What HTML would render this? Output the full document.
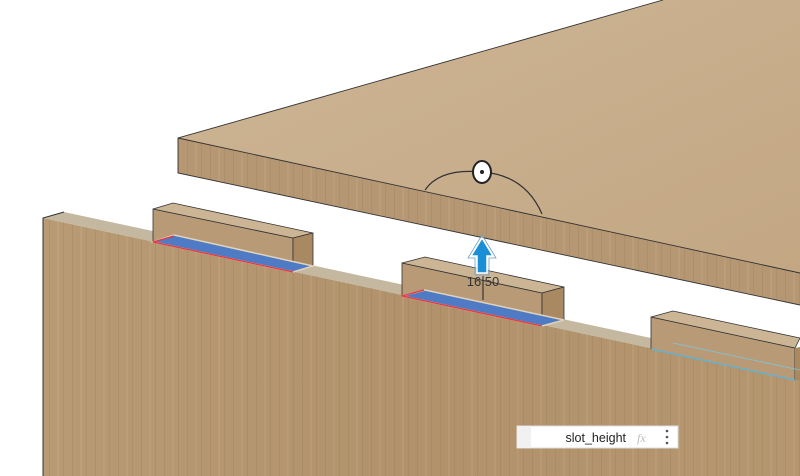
<!DOCTYPE html>
<html><head><meta charset="utf-8"><style>
html,body{margin:0;padding:0;background:#fff;width:800px;height:476px;overflow:hidden}
svg{display:block}
</style></head><body>
<svg width="800" height="476" viewBox="0 0 800 476" xmlns="http://www.w3.org/2000/svg">
<defs>
<linearGradient id="tf" x1="0" y1="0" x2="1" y2="1"><stop offset="0" stop-color="#cdb594"/><stop offset="1" stop-color="#c3a784"/></linearGradient>
<linearGradient id="lb" x1="0" y1="0" x2="1" y2="0"><stop offset="0" stop-color="#b89a75"/><stop offset="0.5" stop-color="#b1926b"/><stop offset="1" stop-color="#b5966f"/></linearGradient>
<pattern id="vg" width="23" height="476" patternUnits="userSpaceOnUse">
<rect x="3" y="0" width="1" height="476" fill="#8a6a45" opacity="0.18"/>
<rect x="11" y="0" width="2" height="476" fill="#d8c2a0" opacity="0.15"/>
<rect x="17" y="0" width="1" height="476" fill="#7a5a38" opacity="0.14"/>
</pattern>
</defs>
<!-- lower board -->
<polygon points="43,218 800,380 800,476 43,476" fill="url(#lb)"/>
<polygon points="43,218 800,380 800,476 43,476" fill="url(#vg)"/>
<polygon points="43,218 64,212 800,370 800,380" fill="#c4b8a0"/>
<polyline points="43,476 43,218 64,212" fill="none" stroke="#333" stroke-width="1"/>
<!-- block 1 -->
<polygon points="153,209 293,238 293,272 153,242" fill="#b89a76" stroke="#333" stroke-width="0.8"/>
<polygon points="153,209 173,203 313,233 293,238" fill="#cbb595" stroke="#333" stroke-width="0.8"/>
<polygon points="293,238 313,233 313,266 293,272" fill="#a98962" stroke="#333" stroke-width="0.8"/>
<polygon points="153,242 174,235 313,266 293,272" fill="#4f7bc4" stroke="#e0d2bd" stroke-width="1.5"/>
<polyline points="174,236 153,242 293,272" fill="none" stroke="#f0303a" stroke-width="1.3"/>
<!-- block 2 -->
<polygon points="402,263 542,293 542,326 402,296" fill="#b89a76" stroke="#333" stroke-width="0.8"/>
<polygon points="402,263 425,257 564,287 542,293" fill="#cbb595" stroke="#333" stroke-width="0.8"/>
<polygon points="542,293 564,287 564,320 542,326" fill="#a98962" stroke="#333" stroke-width="0.8"/>
<polygon points="402,296 425,290 564,320 542,326" fill="#4f7bc4" stroke="#e0d2bd" stroke-width="1.5"/>
<polyline points="424,290 402,296 542,326" fill="none" stroke="#f0303a" stroke-width="1.3"/>
<!-- block 3 -->
<polygon points="651,317 795,348 795,380 651,349" fill="#b89a76" stroke="#333" stroke-width="0.8"/>
<polygon points="651,317 673,311 800,338 795,348" fill="#cbb595" stroke="#333" stroke-width="0.8"/>
<polygon points="795,348 800,347 800,380 795,380" fill="#a98962"/>
<line x1="651" y1="349" x2="795" y2="380" stroke="#5ab8e0" stroke-width="1.2"/>
<line x1="673" y1="343" x2="800" y2="370" stroke="#7cc6e0" stroke-width="0.8"/>
<!-- top board -->
<polygon points="178,138 663,0 800,0 800,273" fill="url(#tf)"/>
<polygon points="178,138 800,273 800,305 178,173" fill="#b69773"/>
<polygon points="178,138 800,273 800,305 178,173" fill="url(#vg)"/>
<polyline points="663,0 178,138 178,173 800,305" fill="none" stroke="#333" stroke-width="0.9"/>
<line x1="178" y1="138" x2="800" y2="273" stroke="#333" stroke-width="0.9"/>
<!-- rotate handle -->
<path d="M425,190 Q440,168 482,172 Q525,175 542,214" fill="none" stroke="#333" stroke-width="1.2"/>
<ellipse cx="482" cy="172" rx="9" ry="11" fill="#fff" stroke="#222" stroke-width="2"/>
<circle cx="482" cy="172" r="2" fill="#222"/>
<!-- arrow -->
<polygon points="482,238 493,256 487,256 487,273 477,273 477,256 471,256" fill="#1a8fd6" stroke="#fff" stroke-width="1.5"/>
<polygon points="482,235 496,258 489,258 489,275 475,275 475,258 468,258" fill="none" stroke="#6aa0c8" stroke-width="0.8"/>
<line x1="483" y1="276" x2="483" y2="300" stroke="#222" stroke-width="1"/>
<text x="483" y="286" font-family="Liberation Sans, sans-serif" font-size="13" fill="#333" text-anchor="middle">16.50</text>
<!-- input box -->
<rect x="517" y="426" width="161" height="22" fill="#fff" stroke="#ddd"/>
<rect x="517" y="426" width="14" height="22" fill="#f1f1f1"/>
<text x="626" y="442" font-family="Liberation Sans, sans-serif" font-size="12.5" fill="#222" text-anchor="end">slot_height</text>
<text x="637" y="442" font-family="Liberation Serif, serif" font-style="italic" font-size="12" fill="#bbb">fx</text>
<circle cx="667" cy="431" r="1.3" fill="#555"/><circle cx="667" cy="437" r="1.3" fill="#555"/><circle cx="667" cy="443" r="1.3" fill="#555"/>
</svg>
</body></html>
